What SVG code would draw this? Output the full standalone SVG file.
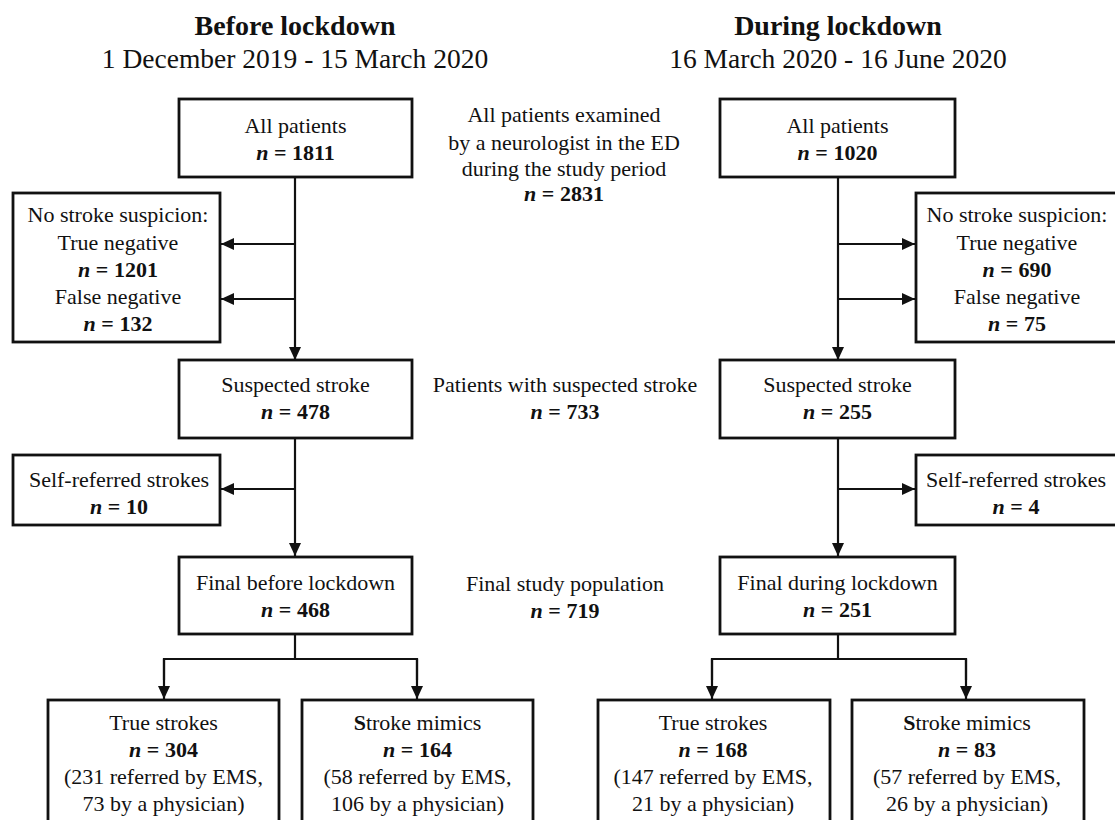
<svg xmlns="http://www.w3.org/2000/svg" width="1115" height="820" viewBox="0 0 1115 820">
<style>
  .box { fill: #ffffff; stroke: #111111; stroke-width: 2.8; }
  .t { font-size: 22px; fill: #111111; text-anchor: middle; }
  .b { font-weight: bold; }
  .i { font-style: italic; font-weight: bold; }
  .title { font-size: 28px; font-weight: bold; fill: #111111; text-anchor: middle; }
  .sub { font-size: 27.5px; fill: #111111; text-anchor: middle; }
  .c { fill: none; stroke: #111111; stroke-width: 2.2; }
</style>
<defs>
  <marker id="arr" markerUnits="userSpaceOnUse" markerWidth="13" markerHeight="12" refX="13" refY="6" orient="auto">
    <path d="M0,0 L13,6 L0,12 z" fill="#111111"/>
  </marker>
</defs>
<rect width="1115" height="820" fill="#ffffff"/>
<g font-family="'Liberation Serif', 'Times New Roman', Times, 'DejaVu Serif', serif">

<g id="headings">
  <text class="title" x="295" y="35">Before lockdown</text>
  <text class="sub" x="295" y="68">1 December 2019 - 15 March 2020</text>
  <text class="title" x="838" y="35">During lockdown</text>
  <text class="sub" x="838" y="68">16 March 2020 - 16 June 2020</text>
</g>

<g id="connectors">
  <line class="c" x1="295" y1="177" x2="295" y2="360" marker-end="url(#arr)"/>
  <line class="c" x1="295" y1="244" x2="221" y2="244" marker-end="url(#arr)"/>
  <line class="c" x1="295" y1="299" x2="221" y2="299" marker-end="url(#arr)"/>
  <line class="c" x1="295" y1="438" x2="295" y2="556" marker-end="url(#arr)"/>
  <line class="c" x1="295" y1="489" x2="221" y2="489" marker-end="url(#arr)"/>
  <polyline class="c" points="295,634 295,659"/>
  <polyline class="c" points="164,680 164,659 417,659 417,680"/>
  <line class="c" x1="164" y1="659" x2="164" y2="699" marker-end="url(#arr)"/>
  <line class="c" x1="417" y1="659" x2="417" y2="699" marker-end="url(#arr)"/>
  <line class="c" x1="838" y1="177" x2="838" y2="360" marker-end="url(#arr)"/>
  <line class="c" x1="838" y1="244" x2="915" y2="244" marker-end="url(#arr)"/>
  <line class="c" x1="838" y1="299" x2="915" y2="299" marker-end="url(#arr)"/>
  <line class="c" x1="838" y1="438" x2="838" y2="556" marker-end="url(#arr)"/>
  <line class="c" x1="838" y1="489" x2="915" y2="489" marker-end="url(#arr)"/>
  <polyline class="c" points="838,634 838,659"/>
  <polyline class="c" points="712,680 712,659 966,659 966,680"/>
  <line class="c" x1="712" y1="659" x2="712" y2="699" marker-end="url(#arr)"/>
  <line class="c" x1="966" y1="659" x2="966" y2="699" marker-end="url(#arr)"/>
</g>

<g id="center-labels">
  <text class="t" x="564" y="122">All patients examined</text>
  <text class="t" x="564" y="150">by a neurologist in the ED</text>
  <text class="t" x="564" y="176">during the study period</text>
  <text class="t" x="564" y="201"><tspan class="i">n</tspan><tspan class="b"> = 2831</tspan></text>
  <text class="t" x="565" y="392">Patients with suspected stroke</text>
  <text class="t" x="565" y="419"><tspan class="i">n</tspan><tspan class="b"> = 733</tspan></text>
  <text class="t" x="565" y="591">Final study population</text>
  <text class="t" x="565" y="618"><tspan class="i">n</tspan><tspan class="b"> = 719</tspan></text>
</g>

<g id="all-before">
  <rect class="box" x="179" y="99" width="233" height="78"/>
  <text class="t" x="295.5" y="133">All patients</text>
  <text class="t" x="295.5" y="160"><tspan class="i">n</tspan><tspan class="b"> = 1811</tspan></text>
</g>
<g id="all-during">
  <rect class="box" x="720" y="99" width="235" height="78"/>
  <text class="t" x="837.5" y="133">All patients</text>
  <text class="t" x="837.5" y="160"><tspan class="i">n</tspan><tspan class="b"> = 1020</tspan></text>
</g>

<g id="nostroke-before">
  <rect class="box" x="13" y="193" width="207" height="149"/>
  <text class="t" x="118" y="222">No stroke suspicion:</text>
  <text class="t" x="118" y="250">True negative</text>
  <text class="t" x="118" y="277"><tspan class="i">n</tspan><tspan class="b"> = 1201</tspan></text>
  <text class="t" x="118" y="304">False negative</text>
  <text class="t" x="118" y="331"><tspan class="i">n</tspan><tspan class="b"> = 132</tspan></text>
</g>
<g id="nostroke-during">
  <rect class="box" x="916" y="193" width="207" height="149"/>
  <text class="t" x="1017" y="222">No stroke suspicion:</text>
  <text class="t" x="1017" y="250">True negative</text>
  <text class="t" x="1017" y="277"><tspan class="i">n</tspan><tspan class="b"> = 690</tspan></text>
  <text class="t" x="1017" y="304">False negative</text>
  <text class="t" x="1017" y="331"><tspan class="i">n</tspan><tspan class="b"> = 75</tspan></text>
</g>

<g id="suspected-before">
  <rect class="box" x="179" y="360" width="233" height="78"/>
  <text class="t" x="295.5" y="392">Suspected stroke</text>
  <text class="t" x="295.5" y="419"><tspan class="i">n</tspan><tspan class="b"> = 478</tspan></text>
</g>
<g id="suspected-during">
  <rect class="box" x="720" y="360" width="235" height="78"/>
  <text class="t" x="837.5" y="392">Suspected stroke</text>
  <text class="t" x="837.5" y="419"><tspan class="i">n</tspan><tspan class="b"> = 255</tspan></text>
</g>

<g id="selfref-before">
  <rect class="box" x="13" y="455" width="207" height="70"/>
  <text class="t" x="119" y="487">Self-referred strokes</text>
  <text class="t" x="119" y="514"><tspan class="i">n</tspan><tspan class="b"> = 10</tspan></text>
</g>
<g id="selfref-during">
  <rect class="box" x="916" y="455" width="207" height="70"/>
  <text class="t" x="1016" y="487">Self-referred strokes</text>
  <text class="t" x="1016" y="514"><tspan class="i">n</tspan><tspan class="b"> = 4</tspan></text>
</g>

<g id="final-before">
  <rect class="box" x="179" y="557" width="233" height="77"/>
  <text class="t" x="295.5" y="590">Final before lockdown</text>
  <text class="t" x="295.5" y="617"><tspan class="i">n</tspan><tspan class="b"> = 468</tspan></text>
</g>
<g id="final-during">
  <rect class="box" x="720" y="557" width="235" height="77"/>
  <text class="t" x="837.5" y="590">Final during lockdown</text>
  <text class="t" x="837.5" y="617"><tspan class="i">n</tspan><tspan class="b"> = 251</tspan></text>
</g>

<g id="true-before">
  <rect class="box" x="48" y="700" width="231" height="140"/>
  <text class="t" x="163.5" y="730">True strokes</text>
  <text class="t" x="163.5" y="757"><tspan class="i">n</tspan><tspan class="b"> = 304</tspan></text>
  <text class="t" x="163.5" y="784">(231 referred by EMS,</text>
  <text class="t" x="163.5" y="811">73 by a physician)</text>
</g>
<g id="mimic-before">
  <rect class="box" x="302" y="700" width="231" height="140"/>
  <text class="t" x="417.5" y="730"><tspan class="b">S</tspan>troke mimics</text>
  <text class="t" x="417.5" y="757"><tspan class="i">n</tspan><tspan class="b"> = 164</tspan></text>
  <text class="t" x="417.5" y="784">(58 referred by EMS,</text>
  <text class="t" x="417.5" y="811">106 by a physician)</text>
</g>
<g id="true-during">
  <rect class="box" x="598" y="700" width="232" height="140"/>
  <text class="t" x="713" y="730">True strokes</text>
  <text class="t" x="713" y="757"><tspan class="i">n</tspan><tspan class="b"> = 168</tspan></text>
  <text class="t" x="713" y="784">(147 referred by EMS,</text>
  <text class="t" x="713" y="811">21 by a physician)</text>
</g>
<g id="mimic-during">
  <rect class="box" x="852" y="700" width="232" height="140"/>
  <text class="t" x="967" y="730"><tspan class="b">S</tspan>troke mimics</text>
  <text class="t" x="967" y="757"><tspan class="i">n</tspan><tspan class="b"> = 83</tspan></text>
  <text class="t" x="967" y="784">(57 referred by EMS,</text>
  <text class="t" x="967" y="811">26 by a physician)</text>
</g>
</g>
</svg>
